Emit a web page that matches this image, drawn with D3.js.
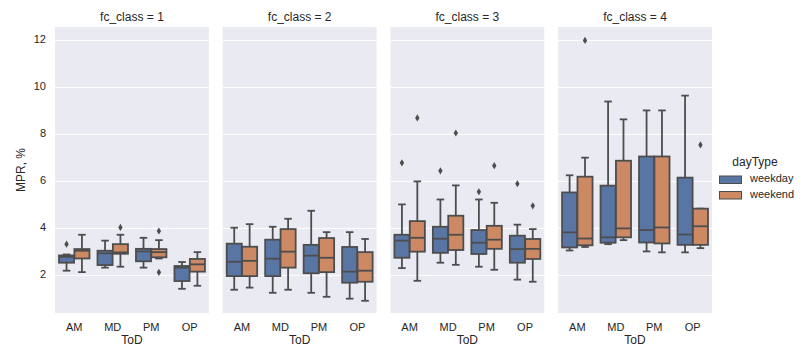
<!DOCTYPE html>
<html>
<head>
<meta charset="utf-8">
<script src="https://cdn.jsdelivr.net/npm/d3@7"></script>
<style>
  body { margin: 0; background: #fff; }
  svg text { font-family: "Liberation Sans", Arial, sans-serif; fill: #262626; }
</style>
</head>
<body>
<svg id="chart" width="803" height="360"></svg>
<script>
var facets = [1, 2, 3, 4];
var tods = ["AM", "MD", "PM", "OP"];
var day_types = ["weekday", "weekend"];
var y_ticks = [2, 4, 6, 8, 10, 12];

// [whisker low, q1, median, q3, whisker high] per ToD, one row per fc_class
var weekday_stats = [
    [[2.20, 2.54, 2.79, 2.85, 2.89], [2.33, 2.44, 2.94, 3.05, 3.48], [2.33, 2.60, 3.02, 3.13, 3.60], [1.43, 1.76, 2.33, 2.40, 2.57]],
    [[1.39, 1.97, 2.58, 3.35, 4.03], [1.26, 1.97, 2.71, 3.52, 4.07], [1.26, 2.09, 2.84, 3.30, 4.75], [1.01, 1.69, 2.16, 3.21, 3.84]],
    [[2.31, 2.75, 3.48, 3.73, 5.02], [2.54, 2.96, 3.56, 4.07, 5.23], [2.37, 2.91, 3.39, 3.93, 5.23], [1.82, 2.54, 3.12, 3.69, 4.16]],
    [[3.06, 3.19, 3.83, 5.53, 6.26], [3.33, 3.39, 3.62, 5.82, 9.40], [3.02, 3.40, 3.93, 7.06, 9.02], [2.98, 3.30, 3.74, 6.16, 9.65]]
];
var weekend_stats = [
    [[2.14, 2.72, 3.05, 3.12, 3.73], [2.37, 2.92, 2.98, 3.33, 3.73], [2.72, 2.77, 2.99, 3.12, 3.50], [1.56, 2.16, 2.47, 2.70, 2.99]],
    [[1.48, 1.97, 2.62, 3.22, 4.18], [1.39, 2.33, 3.01, 3.97, 4.41], [1.09, 2.14, 2.75, 3.59, 3.84], [0.92, 1.73, 2.20, 2.99, 3.55]],
    [[1.77, 3.01, 3.60, 4.31, 6.00], [2.45, 3.08, 3.73, 4.54, 5.83], [2.24, 3.13, 3.52, 4.11, 5.09], [1.73, 2.70, 3.13, 3.55, 3.97]],
    [[3.21, 3.28, 3.57, 6.20, 7.01], [3.50, 3.62, 4.00, 6.88, 8.64], [2.98, 3.36, 4.04, 7.06, 9.02], [3.16, 3.30, 4.09, 4.84, 4.84]]
];
var weekday_outliers = [
    [[3.33], [], [], []],
    [[], [], [], []],
    [[6.79], [6.45], [5.56], [5.90]],
    [[], [], [], []]
];
var weekend_outliers = [
    [[], [4.04], [3.89, 2.13], []],
    [[], [], [], []],
    [[8.70], [8.06], [6.67], [4.96]],
    [[12.0], [], [], [7.55]]
];

var colors = {weekday: "#5975a4", weekend: "#cc8963"};
var line_color = "#4d4d4d";

var svg = d3.select("#chart");
var top_y = 27, bottom_y = 313;

var facet_scale = d3.scaleBand().domain(facets).range([55, 712]).paddingInner(0.082);
var y = d3.scaleLinear().domain([0.40, 12.57]).range([bottom_y, top_y]);
var tod_scale = d3.scaleBand().domain(tods).range([0, facet_scale.bandwidth()]);
var hue_scale = d3.scaleBand().domain(day_types).
    range([tod_scale.bandwidth() * 0.1, tod_scale.bandwidth() * 0.9]);

function diamond(cx, cy)
{
    return "M " + cx + " " + (cy - 3.6) + " L " + (cx + 2.2) + " " + cy +
        " L " + cx + " " + (cy + 3.6) + " L " + (cx - 2.2) + " " + cy + " Z";
}

facets.forEach(function(facet, fi)
{
    var g = svg.append("g").attr("transform", "translate(" + facet_scale(facet) + ",0)");
    var w = facet_scale.bandwidth();
    g.append("rect").attr("x", 0).attr("y", top_y).attr("width", w).
        attr("height", bottom_y - top_y).attr("fill", "#eaeaf2");
    g.selectAll("line.grid").data(y_ticks).enter().append("line").
        attr("x1", 0).attr("x2", w).
        attr("y1", function(d) { return y(d); }).
        attr("y2", function(d) { return y(d); }).
        attr("stroke", "#fff").attr("stroke-width", 1);

    g.append("text").attr("x", w / 2).attr("y", 18).attr("text-anchor", "middle").
        attr("dominant-baseline", "middle").style("font-size", "12px").
        text("fc_class = " + facet);
    g.selectAll("text.tick").data(tods).enter().append("text").
        attr("x", function(d) { return tod_scale(d) + tod_scale.bandwidth() / 2; }).
        attr("y", 328).attr("text-anchor", "middle").attr("dominant-baseline", "middle").
        style("font-size", "11px").text(function(d) { return d; });
    g.append("text").attr("x", w / 2).attr("y", 341).attr("text-anchor", "middle").
        attr("dominant-baseline", "middle").style("font-size", "12px").text("ToD");

    day_types.forEach(function(day_type)
    {
        var stats = day_type == "weekday" ? weekday_stats[fi] : weekend_stats[fi];
        var outs = day_type == "weekday" ? weekday_outliers[fi] : weekend_outliers[fi];
        tods.forEach(function(tod, ti)
        {
            var s = stats[ti];
            var bw = hue_scale.bandwidth();
            var x0 = tod_scale(tod) + hue_scale(day_type) + bw * 0.01;
            var bx = bw * 0.98;
            var cx = x0 + bx / 2;
            var cap = bx / 2;
            var box = g.append("g").attr("stroke", line_color).attr("stroke-width", 1.8);
            box.append("line").attr("x1", cx).attr("x2", cx).attr("y1", y(s[0])).attr("y2", y(s[1]));
            box.append("line").attr("x1", cx).attr("x2", cx).attr("y1", y(s[3])).attr("y2", y(s[4]));
            box.append("line").attr("x1", cx - cap / 2).attr("x2", cx + cap / 2).attr("y1", y(s[0])).attr("y2", y(s[0]));
            box.append("line").attr("x1", cx - cap / 2).attr("x2", cx + cap / 2).attr("y1", y(s[4])).attr("y2", y(s[4]));
            box.append("rect").attr("x", x0).attr("width", bx).
                attr("y", y(s[3])).attr("height", y(s[1]) - y(s[3])).
                attr("fill", colors[day_type]);
            box.append("line").attr("x1", x0).attr("x2", x0 + bx).attr("y1", y(s[2])).attr("y2", y(s[2]));
            outs[ti].forEach(function(v)
            {
                g.append("path").attr("d", diamond(cx, y(v))).attr("fill", line_color);
            });
        });
    });

    if (fi == 0)
    {
        g.selectAll("text.ytick").data(y_ticks).enter().append("text").
            attr("x", -9).attr("y", function(d) { return y(d); }).
            attr("text-anchor", "end").attr("dominant-baseline", "middle").
            style("font-size", "11px").text(function(d) { return d; });
        g.append("text").attr("transform", "translate(-33," + (top_y + bottom_y) / 2 + ") rotate(-90)").
            attr("text-anchor", "middle").attr("dominant-baseline", "middle").
            style("font-size", "12px").text("MPR, %");
    }
});

// legend
var legend = svg.append("g");
legend.append("text").attr("x", 755).attr("y", 163).attr("text-anchor", "middle").
    attr("dominant-baseline", "middle").style("font-size", "12px").text("dayType");
day_types.forEach(function(day_type, i)
{
    legend.append("rect").attr("x", 719.5).attr("y", 176 + i * 15.5).attr("width", 22).attr("height", 7.5).
        attr("fill", colors[day_type]).attr("stroke", line_color).attr("stroke-width", 1);
    legend.append("text").attr("x", 750).attr("y", 179.5 + i * 15.5).attr("dominant-baseline", "middle").
        style("font-size", "11px").text(day_type);
});
</script>
</body>
</html>
